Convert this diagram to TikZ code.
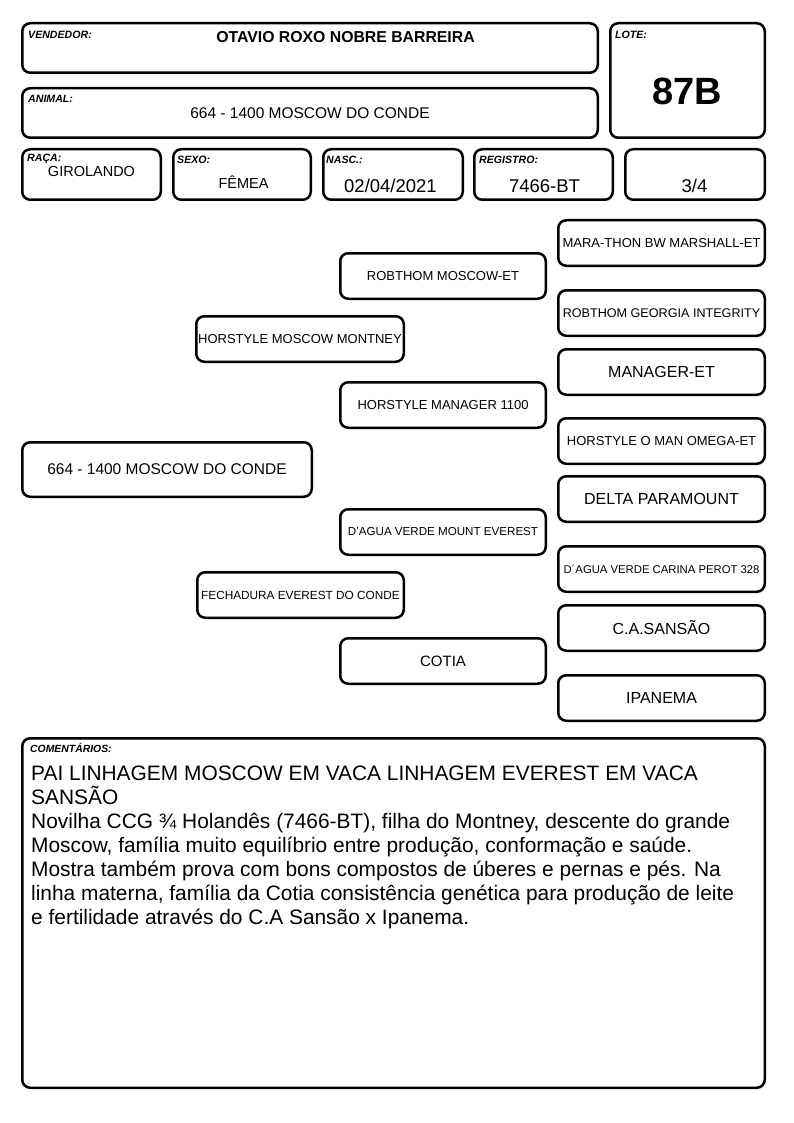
\documentclass[tikz,border=0pt]{standalone}
\usepackage{fontspec}
\setmainfont{Liberation Sans}
\begin{document}
\begin{tikzpicture}[x=1pt,y=-1pt,
  box/.style={draw, line width=2.5pt, rounded corners=8pt, inner sep=0pt},
  ped/.style={box, minimum width=206.5, minimum height=45.5, font=\fontsize{13}{15}\selectfont},
  pedbig/.style={ped, font=\fontsize{16}{18}\selectfont},
  lbl/.style={inner sep=0pt, anchor=base west, font=\fontsize{10.6}{12}\selectfont\bfseries\itshape},
  val/.style={inner sep=0pt, anchor=base, font=\fontsize{15}{17}\selectfont},
  valbig/.style={inner sep=0pt, anchor=base, font=\fontsize{18.5}{20}\selectfont}]
\useasboundingbox (0,0) rectangle (794,1123);
% header boxes
\node[box, minimum width=575.5, minimum height=49.5] (vend) at (310,48) {};
\node[box, minimum width=575.5, minimum height=49.5] (anim) at (310,113) {};
\node[box, minimum width=154.5, minimum height=114.5] (lote) at (687.5,80.5) {};
\node[box, minimum width=138.5, minimum height=50.5] (raca) at (91.5,174.5) {};
\node[box, minimum width=137.5, minimum height=50.5] (sexo) at (242,174.5) {};
\node[box, minimum width=139.5, minimum height=50.5] (nasc) at (393,174.5) {};
\node[box, minimum width=138.5, minimum height=50.5] (reg) at (543.5,174.5) {};
\node[box, minimum width=139.5, minimum height=50.5] (frac) at (695,174.5) {};
% labels
\node[lbl] (lvend) at (28,39) {VENDEDOR:};
\node[lbl] (lanim) at (28,103) {ANIMAL:};
\node[lbl] (llote) at (615,39) {LOTE:};
\node[lbl] (lraca) at (27,162) {RAÇA:};
\node[lbl] (lsexo) at (177,164) {SEXO:};
\node[lbl] (lnasc) at (326,164) {NASC.:};
\node[lbl] (lreg) at (479,164) {REGISTRO:};
% values
\node[val, font=\fontsize{15.8}{17}\selectfont\bfseries] (tvend) at (345.5,43) {OTAVIO ROXO NOBRE BARREIRA};
\node[val, font=\fontsize{15.5}{17}\selectfont] (tanim) at (310,119) {664 - 1400 MOSCOW DO CONDE};
\node[val, font=\fontsize{38}{40}\selectfont\bfseries] (tlote) at (687.5,105) {87B};
\node[val, font=\fontsize{14.5}{16}\selectfont] (traca) at (91.5,177) {GIROLANDO};
\node[val, font=\fontsize{14.5}{16}\selectfont] (tsexo) at (243.5,189) {FÊMEA};
\node[valbig] (tnasc) at (390.5,193) {02/04/2021};
\node[valbig] (treg) at (544.5,193) {7466-BT};
\node[valbig] (tfrac) at (694.5,193) {3/4};
% pedigree
\node[ped] (mara) at (661.5,243) {MARA-THON BW MARSHALL-ET};
\node[ped, minimum width=205.5] (rmos) at (443,276) {ROBTHOM MOSCOW-ET};
\node[ped, font=\fontsize{12.6}{15}\selectfont] (rgeo) at (661.5,313) {ROBTHOM GEORGIA INTEGRITY};
\node[ped, minimum width=207.5] (hmon) at (300,339) {HORSTYLE MOSCOW MONTNEY};
\node[pedbig] (man) at (661.5,372) {MANAGER-ET};
\node[ped, minimum width=205.5] (hman) at (443,405) {HORSTYLE MANAGER 1100};
\node[ped] (omega) at (661.5,441) {HORSTYLE O MAN OMEGA-ET};
\node[box, minimum width=289.5, minimum height=54.5, font=\fontsize{15.5}{17}\selectfont] (main) at (167,469.5) {664 - 1400 MOSCOW DO CONDE};
\node[pedbig] (delta) at (661.5,499) {DELTA PARAMOUNT};
\node[ped, minimum width=205.5, font=\fontsize{11.6}{14}\selectfont] (dagua) at (443,532) {D'AGUA VERDE MOUNT EVEREST};
\node[ped, font=\fontsize{11.3}{14}\selectfont] (carina) at (661.5,569) {D´AGUA VERDE CARINA PEROT 328};
\node[ped, font=\fontsize{11.8}{14}\selectfont] (fech) at (300.5,595) {FECHADURA EVEREST DO CONDE};
\node[pedbig] (sansao) at (661.5,628) {C.A.SANSÃO};
\node[pedbig, minimum width=205.5, font=\fontsize{15}{17}\selectfont] (cotia) at (443,661) {COTIA};
\node[pedbig] (ipanema) at (661.5,698) {IPANEMA};
% comments
\node[box, minimum width=742.5, minimum height=349.5] (com) at (393.5,913) {};
\node[lbl, font=\fontsize{10.4}{12}\selectfont\bfseries\itshape] (lcom) at (30,752) {COMENTÁRIOS:};
\node[inner sep=0pt, anchor=north west, align=left, font=\fontsize{20.9}{24}\selectfont] (tcom) at (31,765.5)
{PAI LINHAGEM MOSCOW EM VACA LINHAGEM EVEREST EM VACA\\
SANSÃO\\
Novilha CCG ¾ Holandês (7466-BT), filha do Montney, descente do grande\\
Moscow, família muito equilíbrio entre produção, conformação e saúde.\\
Mostra também prova com bons compostos de úberes e pernas e pés. Na\\
linha materna, família da Cotia consistência genética para produção de leite\\
e fertilidade através do C.A Sansão x Ipanema.};
\end{tikzpicture}
\end{document}
